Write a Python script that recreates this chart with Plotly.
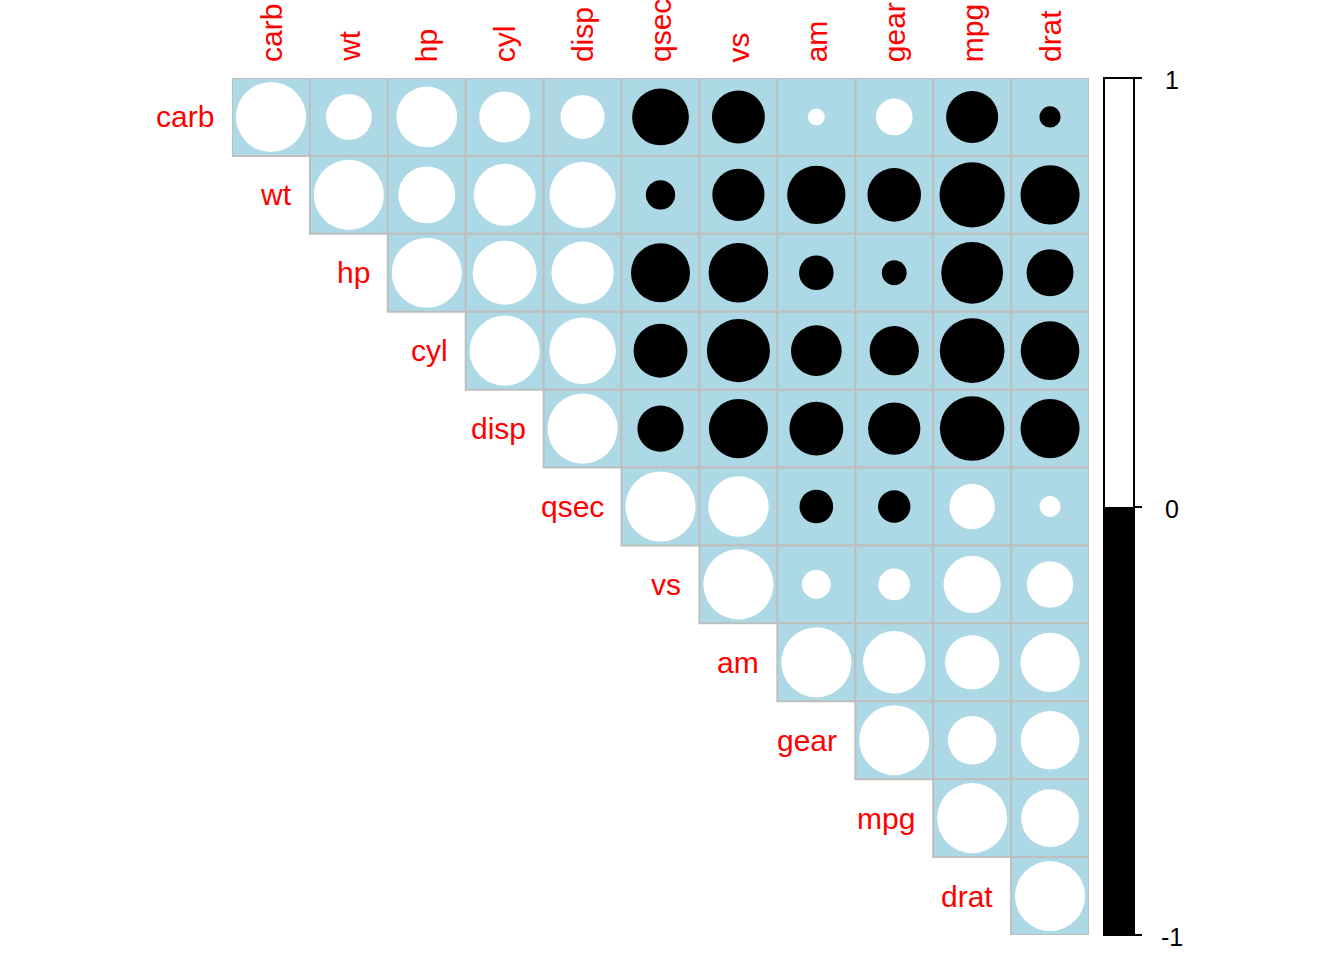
import numpy as np
import plotly.graph_objects as go

variables = ['carb', 'wt', 'hp', 'cyl', 'disp', 'qsec', 'vs', 'am', 'gear', 'mpg', 'drat']

# upper-triangle correlation rows (from the diagonal to the right)
row_carb = [1.000, 0.428, 0.750, 0.527, 0.395, -0.656, -0.570, 0.058, 0.274, -0.551, -0.091]
row_wt = [1.000, 0.659, 0.782, 0.888, -0.175, -0.555, -0.692, -0.583, -0.868, -0.712]
row_hp = [1.000, 0.832, 0.791, -0.708, -0.723, -0.243, -0.126, -0.776, -0.449]
row_cyl = [1.000, 0.902, -0.591, -0.811, -0.523, -0.493, -0.852, -0.700]
row_disp = [1.000, -0.434, -0.710, -0.591, -0.556, -0.848, -0.710]
row_qsec = [1.000, 0.745, -0.230, -0.213, 0.419, 0.091]
row_vs = [1.000, 0.168, 0.206, 0.664, 0.440]
row_am = [1.000, 0.794, 0.600, 0.713]
row_gear = [1.000, 0.480, 0.700]
row_mpg = [1.000, 0.681]
row_drat = [1.000]

rows = [row_carb, row_wt, row_hp, row_cyl, row_disp, row_qsec,
        row_vs, row_am, row_gear, row_mpg, row_drat]
colorbar_ticks = [-1, 0, 1]

n = len(variables)
W, H = 1344, 960
ML, MR, MT, MB = 232, 255, 78, 25
cell_px = (W - ML - MR) / n

xs, ys, vals = [], [], []
for i, row in enumerate(rows):
    for k, v in enumerate(row):
        xs.append(i + k + 1)
        ys.append(i + 1)
        vals.append(v)
vals = np.array(vals)
sizes = 0.9 * np.sqrt(np.abs(vals)) * cell_px

fig = go.Figure()
fig.add_trace(go.Scatter(
    x=xs, y=ys, mode='markers',
    marker=dict(
        size=sizes, color=vals, cmin=-1, cmax=1, opacity=1,
        colorscale=[[0, 'black'], [0.5, 'black'], [0.5, 'white'], [1, 'white']],
        line=dict(width=0),
        showscale=True,
        colorbar=dict(
            thickness=30, lenmode='pixels', len=H - MT - MB,
            y=0.5, yanchor='middle', ypad=0,
            x=(1104 - ML) / (W - ML - MR), xanchor='left', xpad=0,
            outlinewidth=2, outlinecolor='black',
            tickvals=colorbar_ticks, ticks='outside', ticklen=7,
            tickwidth=2, tickcolor='black', showticklabels=False,
        ),
    ),
    hoverinfo='skip', showlegend=False,
))

shapes = []
for i in range(n):
    for j in range(i, n):
        shapes.append(dict(
            type='rect', xref='x', yref='y', layer='below',
            x0=j + 0.5, x1=j + 1.5, y0=i + 0.5, y1=i + 1.5,
            fillcolor='#ADD8E6', line=dict(color='#BEBEBE', width=2),
        ))

annotations = []
lab_font = dict(family='Liberation Sans, Arial, sans-serif', size=30, color='red')
for i, name in enumerate(variables):
    annotations.append(dict(
        x=i + 0.5, y=i + 1, xref='x', yref='y', text=name, showarrow=False,
        xanchor='right', yanchor='middle', xshift=-16, font=lab_font,
    ))
    annotations.append(dict(
        x=i + 1, y=0.5, xref='x', yref='y', text=name, showarrow=False,
        xanchor='center', yanchor='bottom', yshift=14, textangle=-90, font=lab_font,
    ))
for t in colorbar_ticks:
    annotations.append(dict(
        x=(1172 - ML) / (W - ML - MR), y=(t + 1) / 2, xref='paper', yref='paper',
        text=str(t), showarrow=False, xanchor='center', yanchor='middle', yshift=-2,
        font=dict(family='Liberation Sans, Arial, sans-serif', size=25, color='black'),
    ))

fig.update_layout(
    width=W, height=H,
    margin=dict(l=ML, r=MR, t=MT, b=MB, pad=0),
    paper_bgcolor='white', plot_bgcolor='white',
    xaxis=dict(range=[0.5, n + 0.5], visible=False, fixedrange=True),
    yaxis=dict(range=[n + 0.5, 0.5], visible=False, fixedrange=True),
    shapes=shapes, annotations=annotations,
)

fig.write_html('out.html')
